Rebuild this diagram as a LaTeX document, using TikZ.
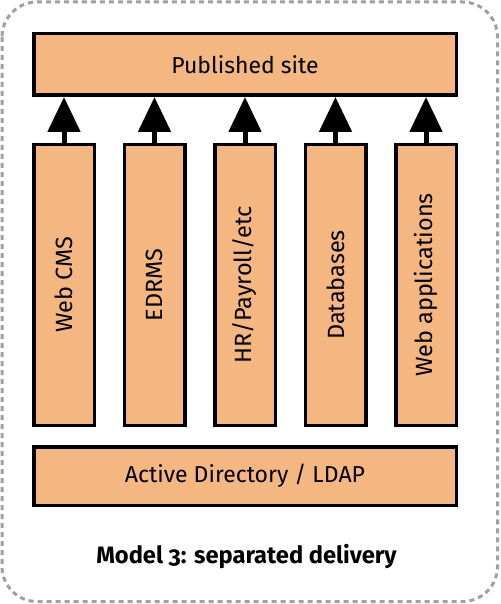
\documentclass[tikz,border=0pt]{standalone}
\usepackage{fontspec}
\setmainfont{Fira Sans}[Numbers=OldStyle]
\usetikzlibrary{arrows.meta}
\definecolor{peach}{RGB}{245,183,130}
\definecolor{dashgray}{RGB}{160,160,160}
\tikzset{
  box/.style={draw=black, line width=3.5pt, fill=peach, inner sep=0pt, font=\fontsize{23}{26}\selectfont},
  hbox/.style={box, minimum width=422.5pt, minimum height=60pt},
  vbox/.style={box, minimum width=60.5pt, minimum height=280.5pt},
  vlabel/.style={rotate=90, font=\fontsize{23.5}{26}\selectfont},
  uparrow/.style={line width=5pt, -{Triangle[length=35pt,width=32pt]}},
  frame/.style={draw=dashgray, line width=3pt, dash pattern=on 5pt off 4pt, rounded corners=35pt}
}
\begin{document}
\begin{tikzpicture}[x=1pt,y=1pt]
\useasboundingbox (0,0) rectangle (500,-604);
\draw[frame] (2,-2) rectangle (497.5,-601.5);
\node[hbox, minimum height=61.5pt] (pub) at (245,-64.5) {Published site};
\node[vbox] (b1) at (64,-285) {};
\node[vbox] (b2) at (154.5,-285) {};
\node[vbox] (b3) at (245,-285) {};
\node[vbox] (b4) at (335.5,-285) {};
\node[vbox] (b5) at (426,-285) {};
\node[vlabel] (t1) at (b1.center) {Web CMS};
\node[vlabel] (t2) at (b2.center) {EDRMS};
\node[vlabel] (t3) at (b3.center) {HR/Payroll/etc};
\node[vlabel] (t4) at (b4.center) {Databases};
\node[vlabel] (t5) at (b5.center) {Web applications};
\node[hbox, minimum height=58.5pt] (ad) at (245,-476) {Active Directory / LDAP};
\foreach \i in {1,...,5} {
  \draw[uparrow] (b\i.north) -- (b\i.north |- pub.south);
}
\node[anchor=base, font=\fontsize{23.7}{28}\selectfont\bfseries] (title) at (246.5,-563) {Model 3: separated delivery};
\end{tikzpicture}
\end{document}
